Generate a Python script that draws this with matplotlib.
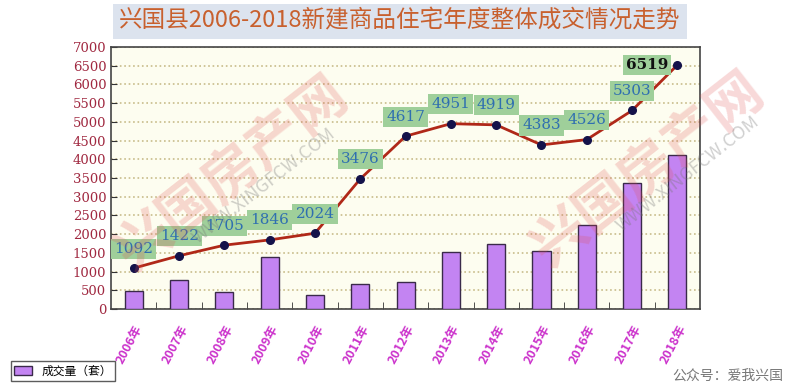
import numpy as np
import matplotlib.pyplot as plt
from matplotlib.patches import Patch

plt.rcParams['font.family'] = ['Noto Sans CJK SC', 'DejaVu Sans']

years = ['2006年', '2007年', '2008年', '2009年', '2010年', '2011年', '2012年',
         '2013年', '2014年', '2015年', '2016年', '2017年', '2018年']
volume = [490, 770, 450, 1390, 375, 660, 720, 1510, 1740, 1560, 2250, 3370, 4120]
price = [1092, 1422, 1705, 1846, 2024, 3476, 4617, 4951, 4919, 4383, 4526, 5303, 6519]

fig = plt.figure(figsize=(8, 3.87), dpi=100)
ax = fig.add_axes([0.139, 0.2016, 0.736, 0.677])
ax.set_facecolor('#fdfdf0')

x = np.arange(len(years))
ax.bar(x, volume, width=0.4, color='#c384f2', edgecolor='#3a2a4a', linewidth=1, zorder=3)
ax.plot(x, price, color='#b02818', linewidth=2, zorder=4)
ax.plot(x, price, 'o', color='#14124a', markersize=5.5, zorder=5)

for i, v in enumerate(price):
    last = i == len(price) - 1
    ax.annotate(str(v), (x[i], v),
                xytext=(-22, 0) if last else (0, 14), textcoords='offset points',
                ha='center', va='center', fontsize=11, family='DejaVu Serif',
                color='#111111' if last else '#2f6fb0',
                fontweight='bold' if last else 'normal',
                bbox=dict(boxstyle='square,pad=0.2', fc='#9fcf9a', ec='none'),
                zorder=6)

ax.set_xlim(-0.5, len(years) - 0.5)
ax.set_ylim(0, 7000)
ax.set_yticks(np.arange(0, 7001, 500))
ax.set_yticklabels([str(t) for t in range(0, 7001, 500)], family='DejaVu Serif',
                   color='#a02840', fontsize=9.5)
ax.set_xticks(x)
ax.set_xticklabels(years, rotation=62, ha='right', rotation_mode='anchor',
                   color='#cc33cc', fontsize=9, fontweight='bold')
ax.set_xticks(np.arange(0.5, len(years) - 0.5, 1), minor=True)
ax.tick_params(axis='x', which='major', length=0, pad=10)
ax.tick_params(axis='x', which='minor', direction='in', length=5, color='#333333')
ax.tick_params(axis='y', direction='in', length=4, color='#333333')
ax.grid(axis='y', color='#c8bc8a', linestyle=':', linewidth=1.2, zorder=0)
for s in ax.spines.values():
    s.set_color('#444444')
    s.set_linewidth(1.2)

fig.text(0.5, 0.945, '兴国县2006-2018新建商品住宅年度整体成交情况走势',
         ha='center', va='center', fontsize=17, color='#c8602e',
         bbox=dict(boxstyle='square,pad=0.25', fc='#dce3ee', ec='none'))

# watermarks
fig.text(0.29, 0.55, '兴国房产网', rotation=38, fontsize=40, fontweight='bold',
         color='#e05050', alpha=0.22, ha='center', va='center')
fig.text(0.33, 0.52, 'WWW.XINGFCW.COM', rotation=38, fontsize=13,
         color='#777777', alpha=0.35, ha='center', va='center')
fig.text(0.81, 0.56, '兴国房产网', rotation=38, fontsize=40, fontweight='bold',
         color='#e05050', alpha=0.22, ha='center', va='center')
fig.text(0.86, 0.55, 'WWW.XINGFCW.COM', rotation=38, fontsize=13,
         color='#777777', alpha=0.35, ha='center', va='center')

fig.legend(handles=[Patch(fc='#c384f2', ec='#3a2a4a', label='成交量（套）')],
           loc='lower left', bbox_to_anchor=(0.006, 0.0), frameon=True,
           fancybox=False, edgecolor='#333333', fontsize=8.5,
           borderpad=0.3, handlelength=1.5)
fig.text(0.84, 0.01, '公众号：爱我兴国', fontsize=10, color='#777777', va='bottom')

fig.savefig('out.png', dpi=100)
